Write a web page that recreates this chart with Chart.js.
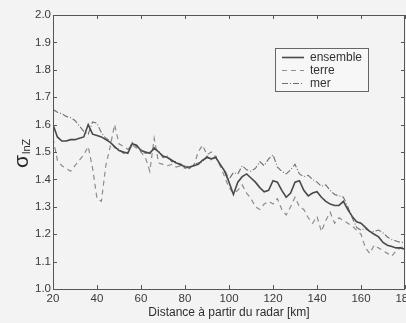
<!DOCTYPE html>
<html><head><meta charset="utf-8">
<script src="https://cdn.jsdelivr.net/npm/chart.js@4"></script>
<style>html,body{margin:0;padding:0;background:#f3f3f3;}canvas{display:block;}</style>
</head><body>
<canvas id="c" width="406" height="323"></canvas>
<script>
const distances = [20,22,24,26,28,30,32,34,36,38,40,42,44,46,48,50,52,54,56,58,60,62,64,66,68,70,72,74,76,78,80,82,84,86,88,90,92,94,96,98,100,102,104,106,108,110,112,114,116,118,120,122,124,126,128,130,132,134,136,138,140,142,144,146,148,150,152,154,156,158,160,162,164,166,168,170,172,174,176,178,180];
const ensemble = [1.60,1.555,1.54,1.54,1.545,1.545,1.55,1.555,1.60,1.565,1.56,1.555,1.545,1.535,1.52,1.505,1.50,1.495,1.53,1.525,1.505,1.50,1.495,1.515,1.50,1.485,1.48,1.47,1.46,1.455,1.445,1.445,1.45,1.455,1.47,1.48,1.475,1.48,1.455,1.43,1.39,1.345,1.39,1.41,1.42,1.405,1.39,1.37,1.355,1.36,1.395,1.39,1.36,1.335,1.35,1.39,1.395,1.36,1.34,1.35,1.355,1.335,1.32,1.31,1.305,1.305,1.32,1.29,1.265,1.245,1.24,1.225,1.21,1.20,1.19,1.17,1.16,1.155,1.15,1.15,1.145];
const terre = [1.55,1.47,1.45,1.44,1.43,1.45,1.47,1.49,1.52,1.44,1.33,1.32,1.45,1.52,1.60,1.53,1.52,1.51,1.525,1.515,1.50,1.48,1.43,1.55,1.46,1.455,1.45,1.455,1.445,1.45,1.44,1.445,1.45,1.50,1.525,1.49,1.50,1.48,1.45,1.41,1.37,1.35,1.36,1.38,1.35,1.33,1.30,1.29,1.31,1.32,1.31,1.33,1.29,1.27,1.30,1.335,1.30,1.29,1.26,1.24,1.265,1.21,1.25,1.28,1.24,1.26,1.25,1.24,1.23,1.215,1.20,1.15,1.13,1.16,1.15,1.14,1.13,1.12,1.14,1.15,1.16];
const mer = [1.655,1.645,1.64,1.63,1.625,1.615,1.595,1.575,1.565,1.61,1.605,1.57,1.55,1.54,1.515,1.51,1.495,1.50,1.535,1.52,1.51,1.495,1.50,1.51,1.505,1.48,1.485,1.465,1.465,1.45,1.45,1.44,1.455,1.46,1.465,1.485,1.47,1.485,1.45,1.435,1.40,1.425,1.42,1.45,1.435,1.43,1.44,1.465,1.45,1.475,1.49,1.445,1.43,1.42,1.435,1.455,1.42,1.41,1.415,1.40,1.39,1.375,1.38,1.36,1.345,1.34,1.335,1.30,1.26,1.225,1.215,1.22,1.21,1.21,1.215,1.205,1.19,1.18,1.175,1.17,1.17];
const xTicks = [20,40,60,80,100,120,140,160,180];
const yTicks = [1.0,1.1,1.2,1.3,1.4,1.5,1.6,1.7,1.8,1.9,2.0];
const seriesLabels = ['ensemble','terre','mer'];
const xTitle = 'Distance à partir du radar [km]';
const yTitleMain = 'σ';
const yTitleSub = 'lnZ';

const FONT = '"Liberation Sans", Arial, Helvetica, sans-serif';
const pts = arr => distances.map((d,i)=>({x:d,y:arr[i]}));

const bgPlugin = {
  id:'bg',
  beforeDraw(chart){
    const ctx = chart.ctx;
    ctx.save(); ctx.fillStyle='#f3f3f3'; ctx.fillRect(0,0,chart.width,chart.height); ctx.restore();
  }
};

const framePlugin = {
  id:'frame',
  afterDatasetsDraw(chart){
    const ctx = chart.ctx, a = chart.chartArea;
    const xs = chart.scales.x, ys = chart.scales.y;
    ctx.save();
    ctx.strokeStyle='#555'; ctx.lineWidth=1;
    ctx.strokeRect(Math.round(a.left)+0.5, Math.round(a.top)+0.5, Math.round(a.right-a.left)-1, Math.round(a.bottom-a.top));
    ctx.beginPath();
    const L=4;
    xs.ticks.forEach(t=>{
      const px = Math.round(xs.getPixelForValue(t.value))+0.5;
      ctx.moveTo(px,a.bottom); ctx.lineTo(px,a.bottom-L);
      ctx.moveTo(px,a.top); ctx.lineTo(px,a.top+L);
    });
    ys.ticks.forEach(t=>{
      const py = Math.round(ys.getPixelForValue(t.value))+0.5;
      ctx.moveTo(a.left,py); ctx.lineTo(a.left+L,py);
      ctx.moveTo(a.right,py); ctx.lineTo(a.right-L,py);
    });
    ctx.stroke();
    ctx.restore();
  },
  afterDraw(chart){
    const ctx = chart.ctx;
    // y-axis title: sigma with subscript
    ctx.save();
    ctx.translate(0,168);
    ctx.rotate(-Math.PI/2);
    ctx.fillStyle='#2a2a2a';
    ctx.textBaseline='alphabetic';
    ctx.textAlign='left';
    ctx.font='21px '+FONT;
    ctx.fillText(yTitleMain,0,28);
    const w = ctx.measureText(yTitleMain).width;
    ctx.font='11px '+FONT;
    ctx.fillText(yTitleSub,w+1,30);
    ctx.restore();
    // legend
    const bx=275, by=48, bw=93, bh=43;
    ctx.save();
    ctx.fillStyle='#f7f7f7';
    ctx.fillRect(bx,by,bw,bh);
    ctx.strokeStyle='#666'; ctx.lineWidth=1;
    ctx.strokeRect(bx+0.5,by+0.5,bw,bh);
    chart.data.datasets.forEach((ds,i)=>{
      const yy = 57 + 13*i + 0.5;
      ctx.beginPath();
      ctx.strokeStyle=ds.borderColor; ctx.lineWidth=ds.borderWidth;
      ctx.setLineDash(ds.borderDash||[]);
      ctx.moveTo(282,yy); ctx.lineTo(304,yy); ctx.stroke();
      ctx.setLineDash([]);
      ctx.fillStyle='#333'; ctx.font='12px '+FONT;
      ctx.textBaseline='middle'; ctx.textAlign='left';
      ctx.fillText(ds.label,310,yy);
    });
    ctx.restore();
  }
};

new Chart(document.getElementById('c'),{
  type:'line',
  data:{datasets:[
    {label:seriesLabels[0],data:pts(ensemble),borderColor:'#4a4a4a',borderWidth:1.6,pointRadius:0,tension:0,fill:false},
    {label:seriesLabels[1],data:pts(terre),borderColor:'#8c8c8c',borderWidth:1.2,borderDash:[5,4],pointRadius:0,tension:0,fill:false},
    {label:seriesLabels[2],data:pts(mer),borderColor:'#6e6e6e',borderWidth:1.1,borderDash:[6,2,1,2],pointRadius:0,tension:0,fill:false}
  ]},
  options:{
    responsive:false, animation:false, devicePixelRatio:1,
    layout:{padding:{top:15,right:1,left:0,bottom:0}},
    plugins:{legend:{display:false},tooltip:{enabled:false}},
    scales:{
      x:{type:'linear',min:20,max:180,
        afterBuildTicks(s){s.ticks = xTicks.map(v=>({value:v}));},
        afterFit(s){s.height=34; s.paddingLeft=0; s.paddingRight=0;},
        grid:{display:false,drawTicks:false,tickLength:0},
        border:{display:false},
        ticks:{padding:3,color:'#3a3a3a',font:{family:FONT,size:11.5},maxRotation:0,autoSkip:false,callback:v=>String(v)},
        title:{display:true,text:xTitle,color:'#2e2e2e',font:{family:FONT,size:12},padding:{top:0,bottom:3}}
      },
      y:{type:'linear',min:1,max:2,
        afterBuildTicks(s){s.ticks = yTicks.map(v=>({value:v}));},
        afterFit(s){s.width=53; s.paddingTop=0; s.paddingBottom=0;},
        grid:{display:false,drawTicks:false,tickLength:0},
        border:{display:false},
        ticks:{padding:2,color:'#3a3a3a',font:{family:FONT,size:11.5},autoSkip:false,callback:v=>Number(v).toFixed(1)}
      }
    }
  },
  plugins:[bgPlugin,framePlugin]
});
</script>
</body></html>
